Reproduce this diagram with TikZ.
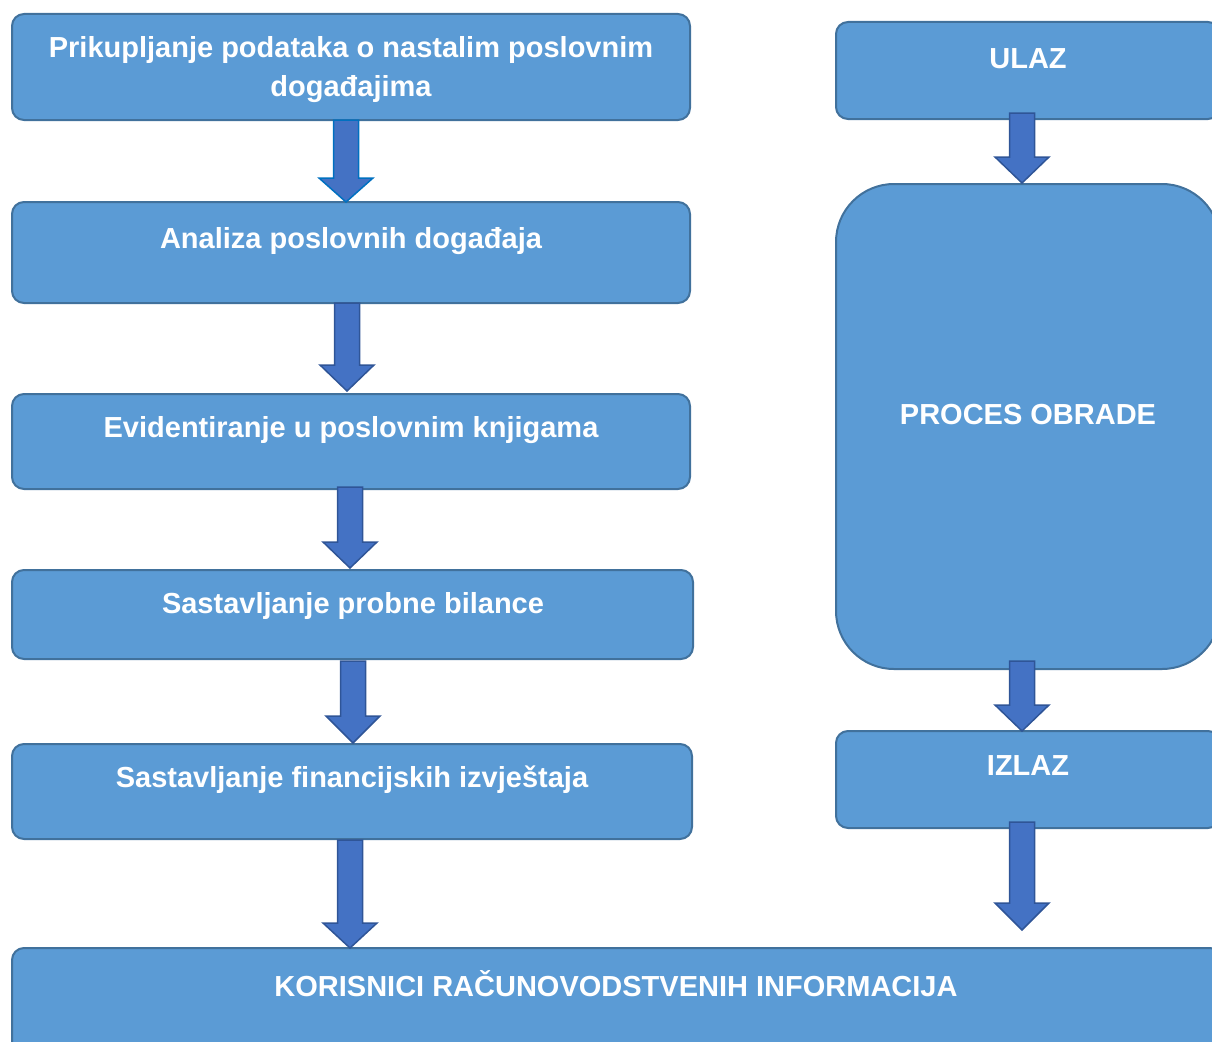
\documentclass[tikz,border=0pt]{standalone}
\usepackage{fontspec}
\setmainfont{Liberation Sans}
\definecolor{boxfill}{HTML}{5B9BD5}
\definecolor{boxline}{HTML}{41719C}
\definecolor{arrfill}{HTML}{4472C4}
\definecolor{arrline}{HTML}{2F5597}
\definecolor{arrlineb}{HTML}{0070C0}
\newcommand\blockarr[5][arrline]{%
  \filldraw[fill=arrfill,draw=#1,line width=1.5pt,line join=miter]
    (#2-12.5,#3) -- (#2+12.5,#3) -- (#2+12.5,#4) -- (#2+27,#4) -- (#2,#5)
    -- (#2-27,#4) -- (#2-12.5,#4) -- cycle;}
\tikzset{
  boxst/.style={draw=boxline,fill=boxfill,line width=2pt,rounded corners=12pt},
  lbl/.style={text=white,font=\bfseries\fontsize{29}{39}\selectfont,align=center,inner sep=0pt}
}
\begin{document}
\begin{tikzpicture}[x=1pt,y=-1pt]
\useasboundingbox (0,0) rectangle (1212,1041);
\clip (0,0) rectangle (1212,1041);
% left column boxes
\draw[boxst] (12,14) rectangle (690,120);
\node[lbl] (b1) at (351,70) {Prikupljanje podataka o nastalim poslovnim\\događajima};
\draw[boxst] (12,202) rectangle (690,303);
\node[lbl] (b2) at (351,241) {Analiza poslovnih događaja};
\draw[boxst] (12,394) rectangle (690,489);
\node[lbl] (b3) at (351,430) {Evidentiranje u poslovnim knjigama};
\draw[boxst] (12,570) rectangle (693,659);
\node[lbl] (b4) at (353,606) {Sastavljanje probne bilance};
\draw[boxst] (12,744) rectangle (692,839);
\node[lbl] (b5) at (352,780) {Sastavljanje financijskih izvještaja};
\draw[boxst] (12,948) rectangle (1222,1060);
\node[lbl] (b6) at (616,984) {KORISNICI RAČUNOVODSTVENIH INFORMACIJA};
% right column
\draw[boxst] (836,22) rectangle (1220,119);
\node[lbl] (r1) at (1028,59) {ULAZ};
\draw[boxst,rounded corners=58pt] (836,184) rectangle (1220,669);
\node[lbl] (r2) at (1028,415) {PROCES OBRADE};
\draw[boxst] (836,731) rectangle (1220,828);
\node[lbl] (r3) at (1028,766) {IZLAZ};
% arrows
\blockarr[arrlineb]{346}{120}{178}{202}
\blockarr{347}{303}{365}{391}
\blockarr{350}{487}{542}{568}
\blockarr{353}{661}{716}{743}
\blockarr{350}{840}{923}{948}
\blockarr{1022}{113}{157}{183}
\blockarr{1022}{661}{705}{731}
\blockarr{1022}{822}{903}{930}
\end{tikzpicture}
\end{document}
